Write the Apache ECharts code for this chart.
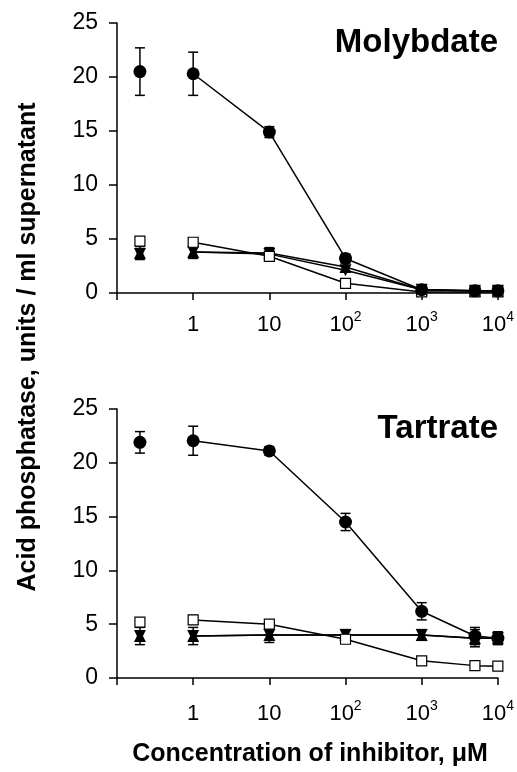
<!DOCTYPE html>
<html>
<head>
<meta charset="UTF-8">
<title>Acid phosphatase inhibition</title>
<script src="https://cdn.jsdelivr.net/npm/echarts@6/dist/echarts.min.js"></script>
<style>
  html, body { margin: 0; padding: 0; background: #fff; }
  #main { width: 517px; height: 772px; }
</style>
</head>
<body>
<div id="main"></div>
<script type="text/javascript">
// inhibitor concentrations (uM); control (no inhibitor) is drawn at the left
var conc = [1, 10, 100, 1000, 5000, 10000];
var ctrlX = 0.2;

// Molybdate panel
var molyCircle = [20.3, 14.9, 3.2, 0.3, 0.2, 0.2];
var molyCircleErr = [2.0, 0.5, 0.4, 0.2, 0.2, 0.2];
var molyCircleCtrl = [20.5, 2.2];
var molySquare = [4.7, 3.4, 0.9, 0.1, 0.1, 0.1];
var molySquareErr = [0.3, 0.3, 0.2, 0.1, 0.1, 0.1];
var molySquareCtrl = [4.8, 0.3];
var molyTriUp = [3.8, 3.7, 2.4, 0.3, 0.2, 0.2];
var molyTriDown = [3.8, 3.6, 2.1, 0.3, 0.2, 0.2];
var molyTriErr = [0.6, 0.5, 0.4, 0.2, 0.2, 0.2];
var molyTriCtrl = [3.7, 0.6];

// Tartrate panel
var tartCircle = [22.05, 21.1, 14.5, 6.2, 3.9, 3.7];
var tartCircleErr = [1.35, 0.4, 0.8, 0.8, 0.8, 0.6];
var tartCircleCtrl = [21.9, 1.0];
var tartSquare = [5.4, 5.0, 3.6, 1.6, 1.15, 1.1];
var tartSquareErr = [0.4, 0.2, 0.2, 0.1, 0.1, 0.1];
var tartSquareCtrl = [5.2, 0.3];
var tartTri = [3.9, 4.0, 4.0, 4.0, 3.7, 3.7];
var tartTriErr = [0.8, 0.7, 0.5, 0.5, 0.8, 0.5];
var tartTriCtrl = [3.9, 0.8];

var yTicks = [0, 5, 10, 15, 20, 25];

var FONT = 'Liberation Sans';
var myChart = echarts.init(document.getElementById('main'));

function pts(vals) {
  return conc.map(function (x, i) { return [x, vals[i]]; });
}
function errPts(vals, errs, ctrl) {
  var d = conc.map(function (x, i) { return [x, vals[i], errs[i]]; });
  d.push([ctrlX, ctrl[0], ctrl[1]]);
  return d;
}

function errorBars(idx, data) {
  return {
    type: 'custom',
    xAxisIndex: idx, yAxisIndex: idx,
    z: 1,
    silent: true,
    data: data,
    renderItem: function (params, api) {
      var x = api.value(0), y = api.value(1), e = api.value(2);
      var hi = api.coord([x, y + e]);
      var lo = api.coord([x, y - e]);
      var w = 5;
      var st = { stroke: '#000', lineWidth: 1.5 };
      return {
        type: 'group',
        children: [
          { type: 'line', shape: { x1: hi[0], y1: hi[1], x2: lo[0], y2: lo[1] }, style: st },
          { type: 'line', shape: { x1: hi[0] - w, y1: hi[1], x2: hi[0] + w, y2: hi[1] }, style: st },
          { type: 'line', shape: { x1: lo[0] - w, y1: lo[1], x2: lo[0] + w, y2: lo[1] }, style: st }
        ]
      };
    }
  };
}

function marks(idx, vals, ctrl, sym) {
  var itemStyle = { color: sym.fill, borderColor: '#000', borderWidth: sym.border, opacity: 1 };
  return [
    {
      type: 'line',
      xAxisIndex: idx, yAxisIndex: idx,
      data: pts(vals),
      symbol: sym.symbol, symbolSize: sym.size, symbolRotate: sym.rotate || 0,
      showAllSymbol: true,
      lineStyle: { color: '#000', width: 1.5 },
      itemStyle: itemStyle,
      z: sym.z,
      animation: false
    },
    {
      type: 'scatter',
      xAxisIndex: idx, yAxisIndex: idx,
      data: [[ctrlX, ctrl[0]]],
      symbol: sym.symbol, symbolSize: sym.size, symbolRotate: sym.rotate || 0,
      itemStyle: itemStyle,
      z: sym.z,
      animation: false
    }
  ];
}

var circle = { symbol: 'circle', size: 13, fill: '#000', border: 0, z: 5 };
var square = { symbol: 'rect', size: 10, fill: '#fff', border: 1.2, z: 4 };
var triUp = { symbol: 'triangle', size: 12, fill: '#000', border: 0, z: 3 };
var triDown = { symbol: 'triangle', size: 12, fill: '#000', border: 0, z: 3, rotate: 180 };

function xAxis(idx, margin) {
  return {
    type: 'log', logBase: 10, gridIndex: idx,
    min: 0.1, max: 10000,
    axisLine: { lineStyle: { color: '#000', width: 1.5 } },
    axisTick: { inside: false, length: 7, lineStyle: { color: '#000', width: 1.5 } },
    minorTick: { show: false },
    splitLine: { show: false },
    axisLabel: {
      margin: margin,
      color: '#000', fontFamily: FONT, fontSize: 22,
      formatter: function (v) {
        var e = Math.round(Math.log10(v));
        if (e < 0) return '';
        if (e === 0) return '{b|1}';
        if (e === 1) return '{b|10}';
        return '{b|10}{sup|' + e + '}';
      },
      rich: {
        b: { fontFamily: FONT, fontSize: 22, color: '#000', lineHeight: 30 },
        sup: { fontFamily: FONT, fontSize: 14, color: '#000', verticalAlign: 'top' }
      }
    }
  };
}

function yAxis(idx) {
  return {
    type: 'value', gridIndex: idx,
    min: yTicks[0], max: yTicks[yTicks.length - 1], interval: 5,
    axisLine: { show: true, lineStyle: { color: '#000', width: 1.5 } },
    axisTick: { show: true, inside: false, length: 8, lineStyle: { color: '#000', width: 1.5 } },
    splitLine: { show: false },
    axisLabel: { margin: 19, color: '#000', fontFamily: FONT, fontSize: 23 }
  };
}

var series = [].concat(
  errorBars(0, errPts(molyCircle, molyCircleErr, molyCircleCtrl)),
  errorBars(0, errPts(molySquare, molySquareErr, molySquareCtrl)),
  errorBars(0, errPts(molyTriUp, molyTriErr, molyTriCtrl)),
  marks(0, molyTriUp, molyTriCtrl, triUp),
  marks(0, molyTriDown, [molyTriCtrl[0] - 0.1], triDown),
  marks(0, molySquare, molySquareCtrl, square),
  marks(0, molyCircle, molyCircleCtrl, circle),

  errorBars(1, errPts(tartCircle, tartCircleErr, tartCircleCtrl)),
  errorBars(1, errPts(tartSquare, tartSquareErr, tartSquareCtrl)),
  errorBars(1, errPts(tartTri, tartTriErr, tartTriCtrl)),
  marks(1, tartTri, tartTriCtrl, triUp),
  marks(1, tartTri, tartTriCtrl, triDown),
  marks(1, tartSquare, tartSquareCtrl, square),
  marks(1, tartCircle, tartCircleCtrl, circle)
);

myChart.setOption({
  backgroundColor: '#fff',
  animation: false,
  grid: [
    { left: 117, top: 23, width: 384, height: 270 },
    { left: 117, top: 409, width: 384, height: 269 }
  ],
  xAxis: [xAxis(0, 17), xAxis(1, 21)],
  yAxis: [yAxis(0), yAxis(1)],
  graphic: [
    { type: 'text', right: 19, top: 26, style: { text: 'Molybdate', fill: '#000', font: 'bold 33px "Liberation Sans"' } },
    { type: 'text', right: 19, top: 412, style: { text: 'Tartrate', fill: '#000', font: 'bold 33px "Liberation Sans"' } },
    {
      type: 'text', x: 28, y: 347, rotation: Math.PI / 2,
      style: { text: 'Acid phosphatase, units / ml supernatant', fill: '#000', font: 'bold 25px "Liberation Sans"', align: 'center', verticalAlign: 'middle' }
    },
    {
      type: 'text', x: 310, y: 754,
      style: { text: 'Concentration of inhibitor, \u03bcM', fill: '#000', font: 'bold 25px "Liberation Sans"', align: 'center', verticalAlign: 'middle' }
    }
  ],
  series: series
});
</script>
</body>
</html>
